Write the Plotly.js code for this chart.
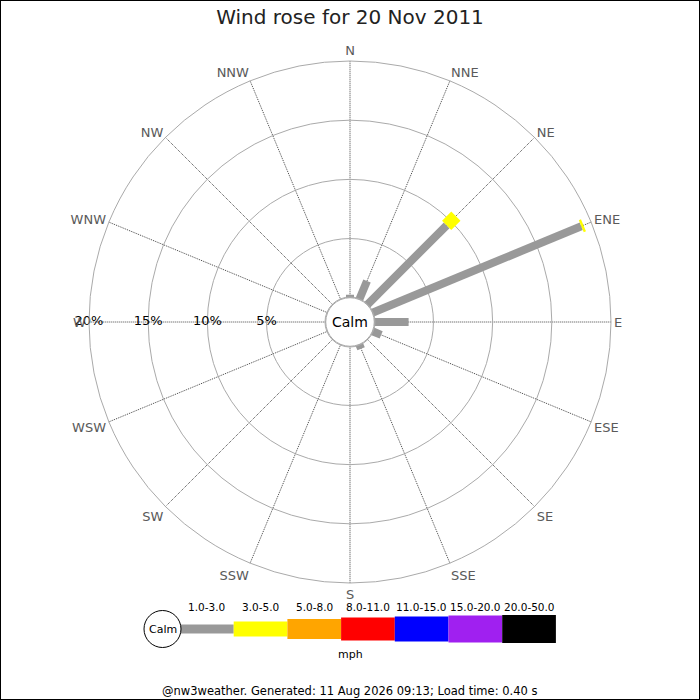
<!DOCTYPE html>
<html>
<head>
<meta charset="utf-8">
<script src="https://cdn.plot.ly/plotly-3.0.1.min.js"></script>
<style>
  body { margin: 0; padding: 0; background: #fff; }
  #chart { width: 700px; height: 700px; }
</style>
</head>
<body>
<div id="chart"></div>
<script>
// compass points, clockwise from north
const directions = ['N', 'NNE', 'NE', 'ENE', 'E', 'ESE', 'SE', 'SSE',
                    'S', 'SSW', 'SW', 'WSW', 'W', 'WNW', 'NW', 'NNW'];

// speed classes (mph) and their colours
const speedBins = ['1.0-3.0', '3.0-5.0', '5.0-8.0', '8.0-11.0', '11.0-15.0', '15.0-20.0', '20.0-50.0'];
const binColors = ['#999999', '#ffff00', '#ffa500', '#ff0000', '#0000ff', '#a020f0', '#000000'];

// % of time per direction, per speed class
const pct1to3 = [0.25, 1.7, 9.5, 19.1, 2.9, 0.8, 0, 0.4, 0, 0, 0, 0, 0, 0, 0, 0];
const pct3to5 = [0, 0, 1.1, 0.2, 0, 0, 0, 0, 0, 0, 0, 0, 0, 0, 0, 0];

const radialTicks = [5, 10, 15, 20];
const radialLabels = ['5%', '10%', '15%', '20%'];

const titleText = 'Wind rose for 20 Nov 2011';
const footerText = '@nw3weather. Generated: 11 Aug 2026 09:13; Load time: 0.40 s';

// each speed class is drawn as a thick radial line stacked on the previous one
const series = [pct1to3, pct3to5];
const barWidths = [8, 13];

const data = [];
const base = directions.map(() => 0);
series.forEach((vals, i) => {
    const theta = [], r = [];
    directions.forEach((d, k) => {
        if (vals[k] > 0) {
            theta.push(d, d, null);
            r.push(base[k], base[k] + vals[k], null);
        }
        base[k] += vals[k];
    });
    data.push({
        type: 'scatterpolar',
        mode: 'lines',
        theta: theta,
        r: r,
        line: { color: binColors[i], width: barWidths[i] },
        connectgaps: false,
        hoverinfo: 'skip',
        showlegend: false
    });
});

// percentage labels sitting on the rings along the west spoke
data.push({
    type: 'scatterpolar',
    mode: 'text',
    theta: radialTicks.map(() => 'W'),
    r: radialTicks,
    text: radialLabels,
    textposition: 'middle center',
    textfont: { family: 'DejaVu Sans', size: 13, color: '#000' },
    hoverinfo: 'skip',
    showlegend: false
});

// legend at the bottom, drawn by hand in pixel terms
const px = x => x / 700;
const py = y => 1 - y / 700;
const shapes = [];
const annotations = [];
const legendHeights = [9, 15, 20, 23, 25, 27, 28];
const legendLeft = 180, legendStep = 53.7, legendMid = 629;

speedBins.forEach((label, i) => {
    const x0 = legendLeft + i * legendStep;
    const h = legendHeights[i];
    shapes.push({
        type: 'rect', xref: 'paper', yref: 'paper',
        x0: px(x0), x1: px(x0 + legendStep),
        y0: py(legendMid + h / 2), y1: py(legendMid - h / 2),
        fillcolor: binColors[i], line: { width: 0 }
    });
    annotations.push({
        xref: 'paper', yref: 'paper', x: px(x0 + legendStep / 2), y: py(607),
        text: label, showarrow: false, xanchor: 'center', yanchor: 'middle',
        font: { family: 'DejaVu Sans', size: 10.5, color: '#000' }
    });
});

// legend calm circle
shapes.push({
    type: 'circle', xref: 'paper', yref: 'paper',
    x0: px(144), x1: px(181), y0: py(647.5), y1: py(610.5),
    fillcolor: '#fff', line: { color: '#000', width: 1 }
});
annotations.push({
    xref: 'paper', yref: 'paper', x: px(162.5), y: py(629),
    text: 'Calm', showarrow: false, xanchor: 'center', yanchor: 'middle',
    font: { family: 'DejaVu Sans', size: 11, color: '#000' }
});
annotations.push({
    xref: 'paper', yref: 'paper', x: px(350), y: py(654),
    text: 'mph', showarrow: false, xanchor: 'center', yanchor: 'middle',
    font: { family: 'DejaVu Sans', size: 11, color: '#000' }
});

// calm circle in the middle of the rose
shapes.push({
    type: 'circle', xref: 'paper', yref: 'paper',
    x0: px(325), x1: px(375), y0: py(347), y1: py(297),
    line: { color: '#aaa', width: 1 }
});
annotations.push({
    xref: 'paper', yref: 'paper', x: px(350), y: py(322),
    text: 'Calm', showarrow: false, xanchor: 'center', yanchor: 'middle',
    font: { family: 'DejaVu Sans', size: 14, color: '#000' }
});

// footer
annotations.push({
    xref: 'paper', yref: 'paper', x: px(349), y: py(691),
    text: footerText, showarrow: false, xanchor: 'center', yanchor: 'middle',
    font: { family: 'DejaVu Sans', size: 11.5, color: '#000' }
});

// image border
shapes.push({
    type: 'rect', xref: 'paper', yref: 'paper',
    x0: 0, x1: 1, y0: 0, y1: 1,
    line: { color: '#000', width: 2 }
});

const layout = {
    width: 700,
    height: 700,
    margin: { l: 0, r: 0, t: 0, b: 0 },
    paper_bgcolor: '#fff',
    font: { family: 'DejaVu Sans', color: '#000' },
    title: {
        text: titleText,
        x: 0.5, xanchor: 'center',
        y: py(17), yanchor: 'middle',
        font: { family: 'DejaVu Sans', size: 20, color: '#222' }
    },
    showlegend: false,
    polar: {
        domain: { x: [px(89), px(611)], y: [py(583), py(61)] },
        hole: 0.093,
        bgcolor: '#fff',
        radialaxis: {
            range: [0, 20],
            tickvals: radialTicks,
            showticklabels: false,
            ticks: '',
            showline: false,
            gridcolor: '#aaa',
            gridwidth: 1
        },
        angularaxis: {
            type: 'category',
            categoryarray: directions,
            direction: 'clockwise',
            rotation: 90,
            ticks: '',
            showline: true,
            linecolor: '#aaa',
            linewidth: 1,
            gridcolor: '#444',
            griddash: '1px,1px',
            gridwidth: 1,
            tickfont: { family: 'DejaVu Sans', size: 13, color: '#5a5a5a' }
        }
    },
    shapes: shapes,
    annotations: annotations
};

Plotly.newPlot('chart', data, layout, { displayModeBar: false, staticPlot: true });
</script>
</body>
</html>
